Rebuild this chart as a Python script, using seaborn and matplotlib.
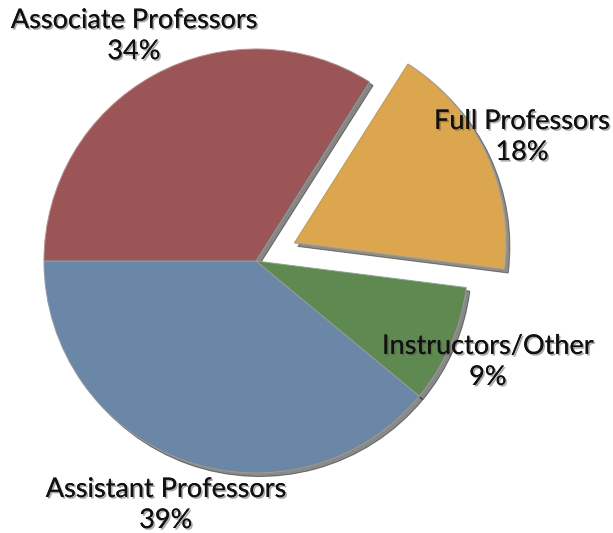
import matplotlib
matplotlib.use("Agg")
import matplotlib.pyplot as plt
import matplotlib.patheffects as pe
import seaborn as sns

categories = ["Assistant Professors", "Instructors/Other", "Full Professors", "Associate Professors"]
shares = [39, 9, 18, 34]
colors = ["#6a87a8", "#5e8a52", "#dca64f", "#9b5556"]
explode = [0, 0, 0.2, 0]

sns.set_theme(style="white")
plt.rcParams["font.family"] = ["Lato", "DejaVu Sans"]

fig = plt.figure(figsize=(6.13, 5.33), dpi=100)
ax = fig.add_axes([0, 0, 1, 1])

wedges, _ = ax.pie(shares, colors=colors, explode=explode, startangle=180,
                   counterclock=True, radius=1, center=(0, 0),
                   shadow={"ox": 0.012, "oy": -0.012, "shade": 0.85},
                   wedgeprops={"edgecolor": "#9a9a9a", "linewidth": 0.7})

ax.set_aspect("equal")
ax.set_xlim(-1.2075, 1.684)
ax.set_ylim(-1.283, 1.231)
ax.axis("off")

label_pos = [(-0.425, -1.151), (1.094, -0.476), (1.255, 0.585), (-0.575, 1.061)]
for cat, val, (x, y) in zip(categories, shares, label_pos):
    ax.text(x, y, f"{cat}\n{val}%", ha="center", va="center", fontsize=19.5,
            color="#111111", linespacing=1.3,
            path_effects=[pe.withSimplePatchShadow(offset=(1.2, -1.2), shadow_rgbFace="#555555", alpha=0.5),
                          pe.Normal()])

fig.savefig("out.png", dpi=100)
